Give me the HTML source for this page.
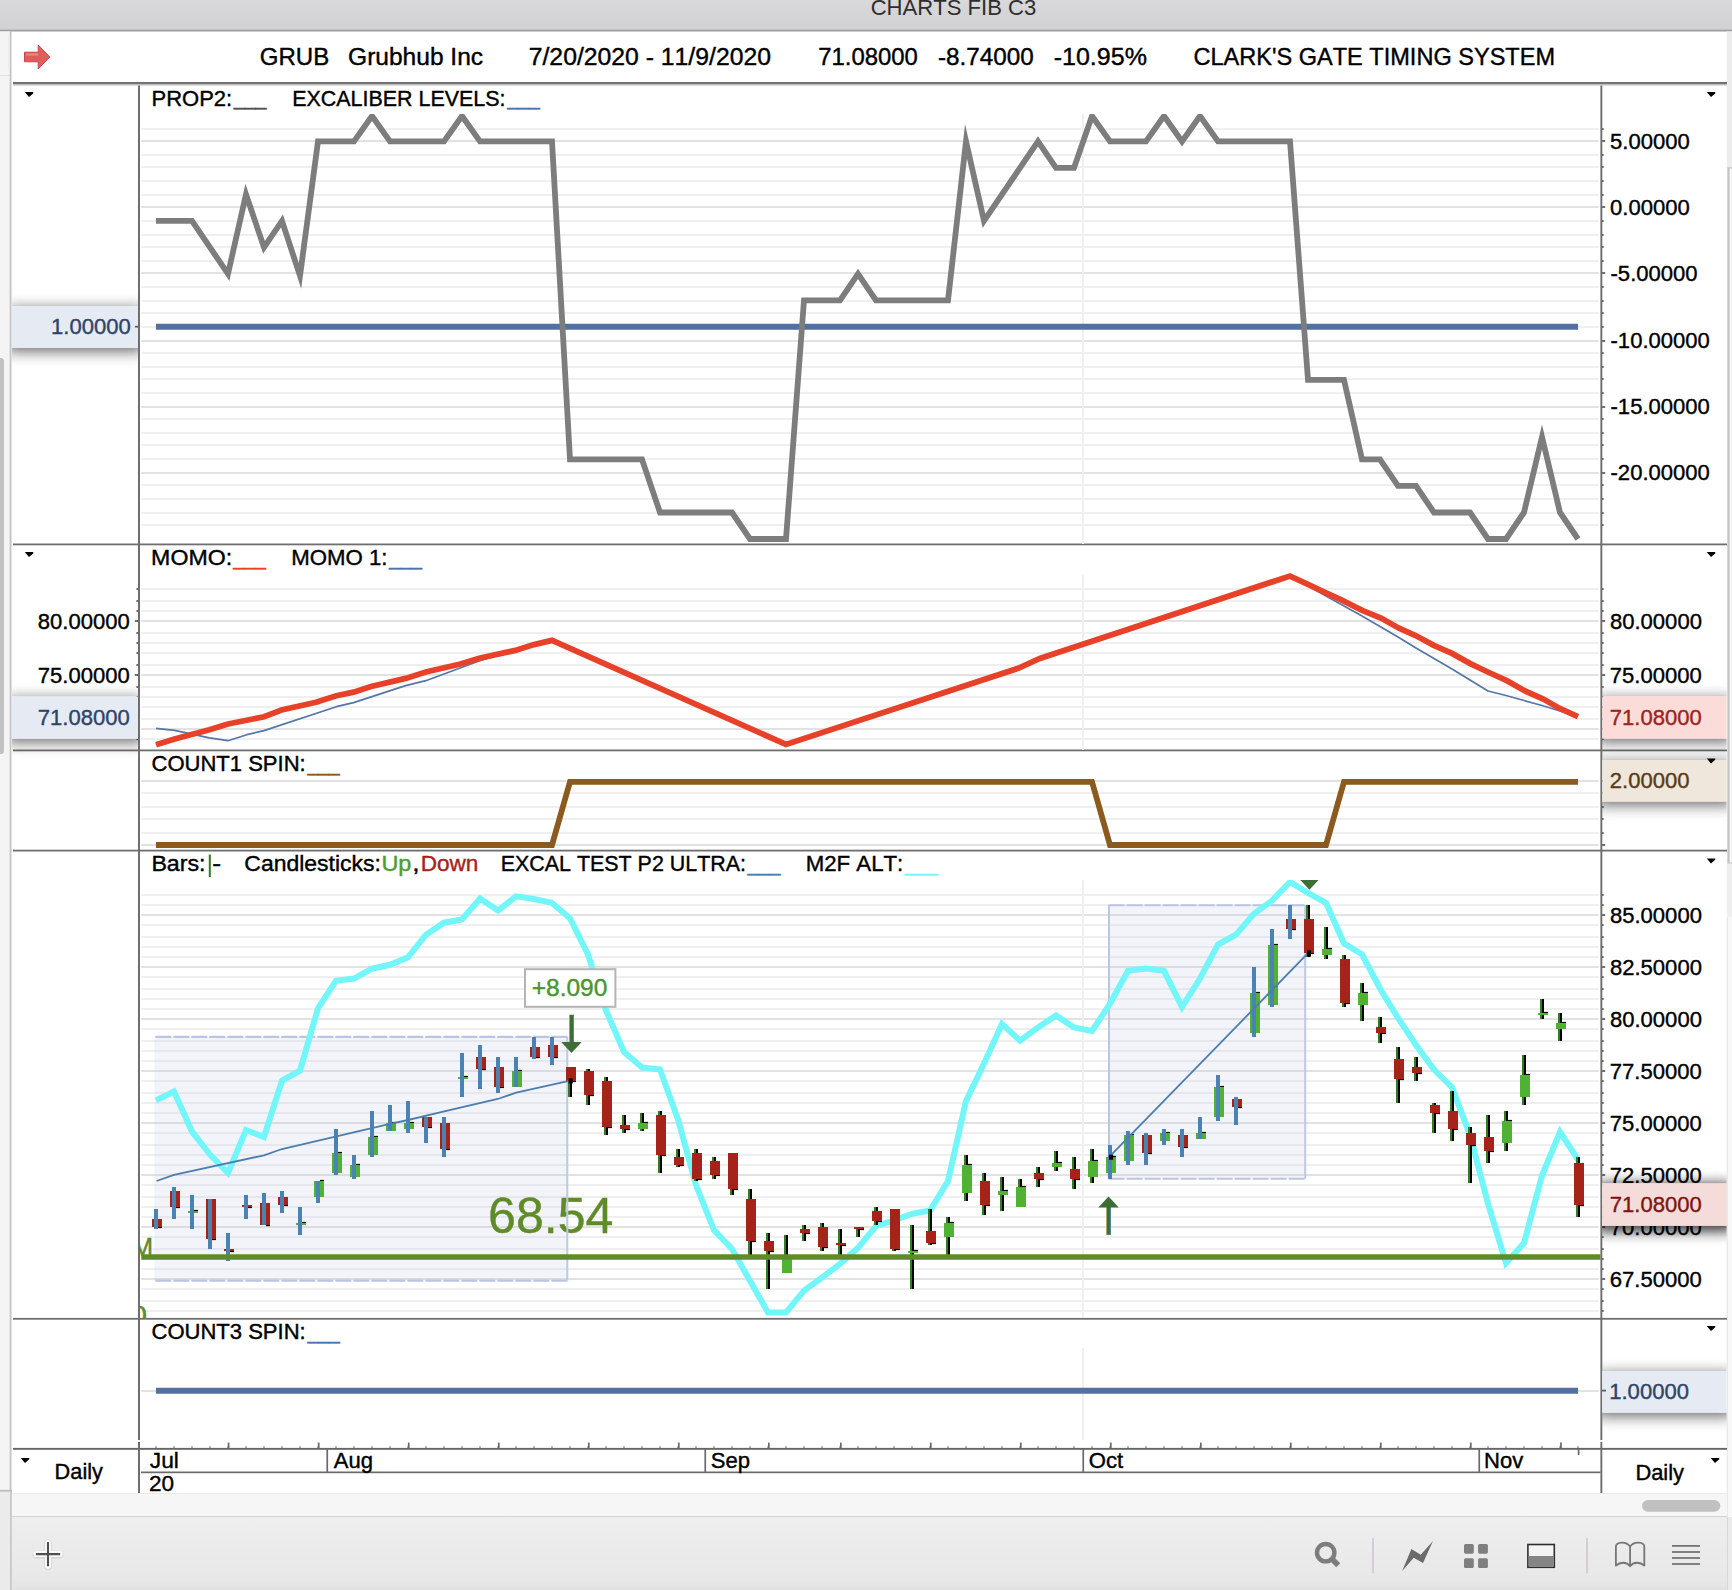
<!DOCTYPE html>
<html lang="en"><head><meta charset="utf-8"><title>CHARTS FIB C3</title>
<style>html,body{margin:0;padding:0;background:#fff;overflow:hidden}body{width:1732px;height:1590px;font-family:"Liberation Sans", sans-serif}svg{display:block;font-family:"Liberation Sans", sans-serif;font-kerning:none}text{white-space:pre}</style></head><body>
<svg width="1732" height="1590" viewBox="0 0 1732 1590">
<defs>
<linearGradient id="tb" x1="0" y1="0" x2="0" y2="1"><stop offset="0" stop-color="#d9d8da"/><stop offset="1" stop-color="#d1d0d2"/></linearGradient>
<filter id="sh" x="-20%" y="-100%" width="140%" height="300%"><feGaussianBlur in="SourceAlpha" stdDeviation="7.5"/><feOffset dy="2.8"/><feComponentTransfer><feFuncA type="linear" slope="0.62"/></feComponentTransfer><feMerge><feMergeNode/><feMergeNode in="SourceGraphic"/></feMerge></filter>
<filter id="glow" x="-50%" y="-50%" width="200%" height="200%"><feMorphology in="SourceAlpha" operator="dilate" radius="1.6" result="d"/><feGaussianBlur in="d" stdDeviation="0.8" result="b"/><feFlood flood-color="#fff"/><feComposite in2="b" operator="in"/><feMerge><feMergeNode/><feMergeNode in="SourceGraphic"/></feMerge></filter>
<clipPath id="c1"><rect x="140" y="114.1" width="1461" height="430"/></clipPath>
<clipPath id="c4"><rect x="140" y="880" width="1461" height="438"/></clipPath>
<clipPath id="c4t"><rect x="140" y="852" width="1461" height="466"/></clipPath>
<clipPath id="cl"><rect x="12" y="85" width="126" height="1400"/></clipPath>
<clipPath id="cr"><rect x="1602.3" y="85" width="124.3" height="1400"/></clipPath>
<clipPath id="cyr"><rect x="140" y="1473" width="1461" height="20"/></clipPath>
<linearGradient id="tbg" x1="0" y1="0" x2="0" y2="1"><stop offset="0" stop-color="#eeeeee"/><stop offset="0.85" stop-color="#e8e8e8"/><stop offset="1" stop-color="#e2e2e2"/></linearGradient>
</defs>
<rect x="0.00" y="0.00" width="1732.00" height="1590.00" fill="#ffffff" />
<rect x="0.00" y="0.00" width="1732.00" height="30.00" fill="url(#tb)" />
<rect x="0.00" y="29.70" width="1732.00" height="1.80" fill="#9e9d9f" />
<text transform="translate(870.68 15.30) scale(1.0227 1)" font-size="21.6" fill="#2e2e2e" stroke="#2e2e2e" stroke-width="0" >CHARTS FIB C3</text>
<rect x="0.00" y="31.50" width="10.00" height="1460.00" fill="#f4f4f4" />
<rect x="9.70" y="31.50" width="1.80" height="1460.00" fill="#c3c3c3" />
<rect x="8.00" y="35.00" width="2.00" height="35.00" fill="#ececec" />
<rect x="0.00" y="75.00" width="10.00" height="1.00" fill="#e2e2e2" />
<rect x="0.00" y="1490.00" width="12.00" height="100.00" fill="#ebebeb" />
<rect x="10.00" y="1490.00" width="1.80" height="100.00" fill="#c9c9c9" />
<rect x="0.00" y="1489.80" width="11.80" height="1.80" fill="#bcbcbc" />
<path d="M0 358 h0.5 a3.5 3.5 0 0 1 3.5 3.5 v389 a3.5 3.5 0 0 1 -3.5 3.5 h-0.5 z" fill="#c1c1c1"/>
<rect x="1726.80" y="31.50" width="5.20" height="136.50" fill="#ececec" />
<rect x="1726.80" y="168.00" width="5.20" height="695.00" fill="#f7f7f7" />
<rect x="1727.40" y="168.00" width="2.20" height="695.00" fill="#c2c2c2" />
<rect x="1727.40" y="167.20" width="4.60" height="1.40" fill="#c8c8c8" />
<rect x="1727.40" y="862.40" width="4.60" height="1.40" fill="#c8c8c8" />
<rect x="1726.80" y="863.80" width="5.20" height="53.00" fill="#eeeeee" />
<rect x="1726.80" y="917.00" width="5.20" height="600.00" fill="#f8f8f8" />
<rect x="1726.80" y="917.00" width="1.00" height="600.00" fill="#e4e4e4" />
<rect x="1726.80" y="1517.00" width="5.20" height="73.00" fill="#ebebeb" />
<rect x="1726.40" y="1517.00" width="1.30" height="73.00" fill="#d0d0d0" />
<path d="M24.5 52.2 H38.2 V45 L49.8 57 L38.2 69 V61.8 H24.5 Z" fill="#de5f58" stroke="#c8485a" stroke-width="1"/>
<path d="M26 54.5 H38" stroke="#ea8a80" stroke-width="2" fill="none"/>
<text transform="translate(259.79 65.00) scale(0.9697 1)" font-size="24.8" fill="#000" stroke="#000" stroke-width="0.4" >GRUB</text>
<text transform="translate(348.07 65.00) scale(0.9897 1)" font-size="24.8" fill="#000" stroke="#000" stroke-width="0.4" >Grubhub Inc</text>
<text transform="translate(528.73 65.00) scale(0.9989 1)" font-size="24.8" fill="#000" stroke="#000" stroke-width="0.4" >7/20/2020 - 11/9/2020</text>
<text transform="translate(818.17 65.00) scale(0.9644 1)" font-size="24.8" fill="#000" stroke="#000" stroke-width="0.4" >71.08000</text>
<text transform="translate(937.92 65.00) scale(0.9788 1)" font-size="24.8" fill="#000" stroke="#000" stroke-width="0.4" >-8.74000</text>
<text transform="translate(1053.69 65.00) scale(1.0090 1)" font-size="24.8" fill="#000" stroke="#000" stroke-width="0.4" >-10.95%</text>
<text transform="translate(1193.40 65.00) scale(0.9501 1)" font-size="24.8" fill="#000" stroke="#000" stroke-width="0.4" >CLARK'S GATE TIMING SYSTEM</text>
<rect x="13.00" y="82.00" width="1714.00" height="2.20" fill="#727272" />
<rect x="13.00" y="84.20" width="1714.00" height="1.30" fill="#b9b9b9" />
<rect x="13.00" y="543.50" width="1714.00" height="1.80" fill="#6e6e6e" />
<rect x="13.00" y="749.50" width="1714.00" height="1.80" fill="#6e6e6e" />
<rect x="13.00" y="849.70" width="1714.00" height="1.80" fill="#6e6e6e" />
<rect x="13.00" y="1317.90" width="1714.00" height="1.80" fill="#6e6e6e" />
<rect x="13.00" y="1447.90" width="1714.00" height="1.90" fill="#666" />
<rect x="138.00" y="85.50" width="2.00" height="1354.50" fill="#6e6e6e" />
<rect x="138.00" y="1442.00" width="2.00" height="51.00" fill="#6e6e6e" />
<rect x="1600.40" y="85.50" width="1.90" height="1354.50" fill="#6e6e6e" />
<rect x="1600.40" y="1442.00" width="1.90" height="51.00" fill="#6e6e6e" />
<rect x="141.20" y="128.00" width="1457.40" height="2.00" fill="#efefef" />
<rect x="1602.00" y="128.00" width="1.70" height="2.00" fill="#6e6e6e" />
<rect x="141.20" y="140.00" width="1457.40" height="2.00" fill="#e2e2e2" />
<rect x="1602.00" y="140.00" width="3.20" height="2.00" fill="#6e6e6e" />
<rect x="141.20" y="154.00" width="1457.40" height="2.00" fill="#efefef" />
<rect x="1602.00" y="154.00" width="1.70" height="2.00" fill="#6e6e6e" />
<rect x="141.20" y="166.00" width="1457.40" height="2.00" fill="#efefef" />
<rect x="1602.00" y="166.00" width="1.70" height="2.00" fill="#6e6e6e" />
<rect x="141.20" y="180.00" width="1457.40" height="2.00" fill="#efefef" />
<rect x="1602.00" y="180.00" width="1.70" height="2.00" fill="#6e6e6e" />
<rect x="141.20" y="194.00" width="1457.40" height="2.00" fill="#efefef" />
<rect x="1602.00" y="194.00" width="1.70" height="2.00" fill="#6e6e6e" />
<rect x="141.20" y="206.00" width="1457.40" height="2.00" fill="#e2e2e2" />
<rect x="1602.00" y="206.00" width="3.20" height="2.00" fill="#6e6e6e" />
<rect x="141.20" y="220.00" width="1457.40" height="2.00" fill="#efefef" />
<rect x="1602.00" y="220.00" width="1.70" height="2.00" fill="#6e6e6e" />
<rect x="141.20" y="234.00" width="1457.40" height="2.00" fill="#efefef" />
<rect x="1602.00" y="234.00" width="1.70" height="2.00" fill="#6e6e6e" />
<rect x="141.20" y="246.00" width="1457.40" height="2.00" fill="#efefef" />
<rect x="1602.00" y="246.00" width="1.70" height="2.00" fill="#6e6e6e" />
<rect x="141.20" y="260.00" width="1457.40" height="2.00" fill="#efefef" />
<rect x="1602.00" y="260.00" width="1.70" height="2.00" fill="#6e6e6e" />
<rect x="141.20" y="272.00" width="1457.40" height="2.00" fill="#e2e2e2" />
<rect x="1602.00" y="272.00" width="3.20" height="2.00" fill="#6e6e6e" />
<rect x="141.20" y="286.00" width="1457.40" height="2.00" fill="#efefef" />
<rect x="1602.00" y="286.00" width="1.70" height="2.00" fill="#6e6e6e" />
<rect x="141.20" y="300.00" width="1457.40" height="2.00" fill="#efefef" />
<rect x="1602.00" y="300.00" width="1.70" height="2.00" fill="#6e6e6e" />
<rect x="141.20" y="312.00" width="1457.40" height="2.00" fill="#efefef" />
<rect x="1602.00" y="312.00" width="1.70" height="2.00" fill="#6e6e6e" />
<rect x="141.20" y="326.00" width="1457.40" height="2.00" fill="#efefef" />
<rect x="1602.00" y="326.00" width="1.70" height="2.00" fill="#6e6e6e" />
<rect x="141.20" y="340.00" width="1457.40" height="2.00" fill="#e2e2e2" />
<rect x="1602.00" y="340.00" width="3.20" height="2.00" fill="#6e6e6e" />
<rect x="141.20" y="352.00" width="1457.40" height="2.00" fill="#efefef" />
<rect x="1602.00" y="352.00" width="1.70" height="2.00" fill="#6e6e6e" />
<rect x="141.20" y="366.00" width="1457.40" height="2.00" fill="#efefef" />
<rect x="1602.00" y="366.00" width="1.70" height="2.00" fill="#6e6e6e" />
<rect x="141.20" y="378.00" width="1457.40" height="2.00" fill="#efefef" />
<rect x="1602.00" y="378.00" width="1.70" height="2.00" fill="#6e6e6e" />
<rect x="141.20" y="392.00" width="1457.40" height="2.00" fill="#efefef" />
<rect x="1602.00" y="392.00" width="1.70" height="2.00" fill="#6e6e6e" />
<rect x="141.20" y="406.00" width="1457.40" height="2.00" fill="#e2e2e2" />
<rect x="1602.00" y="406.00" width="3.20" height="2.00" fill="#6e6e6e" />
<rect x="141.20" y="418.00" width="1457.40" height="2.00" fill="#efefef" />
<rect x="1602.00" y="418.00" width="1.70" height="2.00" fill="#6e6e6e" />
<rect x="141.20" y="432.00" width="1457.40" height="2.00" fill="#efefef" />
<rect x="1602.00" y="432.00" width="1.70" height="2.00" fill="#6e6e6e" />
<rect x="141.20" y="444.00" width="1457.40" height="2.00" fill="#efefef" />
<rect x="1602.00" y="444.00" width="1.70" height="2.00" fill="#6e6e6e" />
<rect x="141.20" y="458.00" width="1457.40" height="2.00" fill="#efefef" />
<rect x="1602.00" y="458.00" width="1.70" height="2.00" fill="#6e6e6e" />
<rect x="141.20" y="472.00" width="1457.40" height="2.00" fill="#e2e2e2" />
<rect x="1602.00" y="472.00" width="3.20" height="2.00" fill="#6e6e6e" />
<rect x="141.20" y="484.00" width="1457.40" height="2.00" fill="#efefef" />
<rect x="1602.00" y="484.00" width="1.70" height="2.00" fill="#6e6e6e" />
<rect x="141.20" y="498.00" width="1457.40" height="2.00" fill="#efefef" />
<rect x="1602.00" y="498.00" width="1.70" height="2.00" fill="#6e6e6e" />
<rect x="141.20" y="512.00" width="1457.40" height="2.00" fill="#efefef" />
<rect x="1602.00" y="512.00" width="1.70" height="2.00" fill="#6e6e6e" />
<rect x="141.20" y="524.00" width="1457.40" height="2.00" fill="#efefef" />
<rect x="1602.00" y="524.00" width="1.70" height="2.00" fill="#6e6e6e" />
<rect x="1082.00" y="114.00" width="2.00" height="430.00" fill="#f0f0f0" />
<g clip-path="url(#c1)">
<line x1="156.00" y1="326.70" x2="1578.00" y2="326.70" stroke="#5271a2" stroke-width="5.9" />
<polyline points="156.0,220.9 174.0,220.9 192.0,220.9 210.0,247.4 228.0,273.9 246.0,194.4 264.0,247.4 282.0,220.9 300.0,275.9 318.0,141.4 336.0,141.4 354.0,141.4 372.0,116.0 390.0,141.4 408.0,141.4 426.0,141.4 444.0,141.4 462.0,116.0 480.0,141.4 498.0,141.4 516.0,141.4 534.0,141.4 552.0,141.4 570.0,459.4 588.0,459.4 606.0,459.4 624.0,459.4 642.0,459.4 660.0,512.5 678.0,512.5 696.0,512.5 714.0,512.5 732.0,512.5 750.0,539.0 768.0,539.0 786.0,539.0 804.0,300.4 822.0,300.4 840.0,300.4 858.0,273.9 876.0,300.4 894.0,300.4 912.0,300.4 930.0,300.4 948.0,300.4 966.0,141.4 984.0,220.9 1002.0,194.4 1020.0,167.9 1038.0,141.4 1056.0,167.9 1074.0,167.9 1092.0,116.0 1110.0,141.4 1128.0,141.4 1146.0,141.4 1164.0,116.0 1182.0,141.4 1200.0,116.0 1218.0,141.4 1236.0,141.4 1254.0,141.4 1272.0,141.4 1290.0,141.4 1308.0,379.9 1326.0,379.9 1344.0,379.9 1362.0,459.4 1380.0,459.4 1398.0,485.9 1416.0,485.9 1434.0,512.5 1452.0,512.5 1470.0,512.5 1488.0,539.0 1506.0,539.0 1524.0,512.5 1542.0,436.9 1560.0,512.5 1578.0,539.0" fill="none" stroke="#7d7d7d" stroke-width="5.8" stroke-linejoin="miter" stroke-miterlimit="10"/>
</g>
<text transform="translate(151.49 105.80) scale(0.9651 1)" font-size="22.8" fill="#000" stroke="#000" stroke-width="0.4" >PROP2:</text>
<text transform="translate(233.70 105.20) scale(0.8643 1)" font-size="22.8" fill="#505050" stroke="#505050" stroke-width="0.4" >___</text>
<text transform="translate(292.24 105.80) scale(0.9408 1)" font-size="22.8" fill="#000" stroke="#000" stroke-width="0.4" >EXCALIBER LEVELS:</text>
<text transform="translate(507.20 105.20) scale(0.8566 1)" font-size="22.8" fill="#4a74b0" stroke="#4a74b0" stroke-width="0.4" >___</text>
<text transform="translate(1610.02 148.95) scale(0.9678 1)" font-size="22.8" fill="#000" stroke="#000" stroke-width="0.4" >5.00000</text>
<text transform="translate(1610.04 215.20) scale(0.9678 1)" font-size="22.8" fill="#000" stroke="#000" stroke-width="0.4" >0.00000</text>
<text transform="translate(1610.52 281.45) scale(0.9678 1)" font-size="22.8" fill="#000" stroke="#000" stroke-width="0.4" >-5.00000</text>
<text transform="translate(1610.52 347.70) scale(0.9678 1)" font-size="22.8" fill="#000" stroke="#000" stroke-width="0.4" >-10.00000</text>
<text transform="translate(1610.52 413.95) scale(0.9678 1)" font-size="22.8" fill="#000" stroke="#000" stroke-width="0.4" >-15.00000</text>
<text transform="translate(1610.52 480.20) scale(0.9678 1)" font-size="22.8" fill="#000" stroke="#000" stroke-width="0.4" >-20.00000</text>
<path d="M24.75 92.10 h8.50 v1.3 l-4.25 3.70 z" fill="#000"/>
<path d="M1706.75 92.10 h8.50 v1.3 l-4.25 3.70 z" fill="#000"/>
<g clip-path="url(#cl)"><g filter="url(#sh)"><rect x="6" y="306.0" width="138" height="42.0" fill="#e6eaf3"/></g></g>
<text transform="translate(51.00 334.40) scale(0.9678 1)" font-size="22.8" fill="#2f4466" stroke="#2f4466" stroke-width="0.4" >1.00000</text>
<line x1="135.00" y1="326.70" x2="138.00" y2="326.70" stroke="#606060" stroke-width="1.8" />
<rect x="141.20" y="588.00" width="1457.40" height="2.00" fill="#efefef" />
<rect x="1602.00" y="588.00" width="1.70" height="2.00" fill="#6e6e6e" />
<rect x="136.40" y="588.00" width="1.60" height="2.00" fill="#6e6e6e" />
<rect x="141.20" y="600.00" width="1457.40" height="2.00" fill="#efefef" />
<rect x="1602.00" y="600.00" width="1.70" height="2.00" fill="#6e6e6e" />
<rect x="136.40" y="600.00" width="1.60" height="2.00" fill="#6e6e6e" />
<rect x="141.20" y="610.00" width="1457.40" height="2.00" fill="#efefef" />
<rect x="1602.00" y="610.00" width="1.70" height="2.00" fill="#6e6e6e" />
<rect x="136.40" y="610.00" width="1.60" height="2.00" fill="#6e6e6e" />
<rect x="141.20" y="620.00" width="1457.40" height="2.00" fill="#e2e2e2" />
<rect x="1602.00" y="620.00" width="3.20" height="2.00" fill="#6e6e6e" />
<rect x="134.80" y="620.00" width="3.20" height="2.00" fill="#6e6e6e" />
<rect x="141.20" y="632.00" width="1457.40" height="2.00" fill="#efefef" />
<rect x="1602.00" y="632.00" width="1.70" height="2.00" fill="#6e6e6e" />
<rect x="136.40" y="632.00" width="1.60" height="2.00" fill="#6e6e6e" />
<rect x="141.20" y="642.00" width="1457.40" height="2.00" fill="#efefef" />
<rect x="1602.00" y="642.00" width="1.70" height="2.00" fill="#6e6e6e" />
<rect x="136.40" y="642.00" width="1.60" height="2.00" fill="#6e6e6e" />
<rect x="141.20" y="652.00" width="1457.40" height="2.00" fill="#efefef" />
<rect x="1602.00" y="652.00" width="1.70" height="2.00" fill="#6e6e6e" />
<rect x="136.40" y="652.00" width="1.60" height="2.00" fill="#6e6e6e" />
<rect x="141.20" y="664.00" width="1457.40" height="2.00" fill="#efefef" />
<rect x="1602.00" y="664.00" width="1.70" height="2.00" fill="#6e6e6e" />
<rect x="136.40" y="664.00" width="1.60" height="2.00" fill="#6e6e6e" />
<rect x="141.20" y="674.00" width="1457.40" height="2.00" fill="#e2e2e2" />
<rect x="1602.00" y="674.00" width="3.20" height="2.00" fill="#6e6e6e" />
<rect x="134.80" y="674.00" width="3.20" height="2.00" fill="#6e6e6e" />
<rect x="141.20" y="686.00" width="1457.40" height="2.00" fill="#efefef" />
<rect x="1602.00" y="686.00" width="1.70" height="2.00" fill="#6e6e6e" />
<rect x="136.40" y="686.00" width="1.60" height="2.00" fill="#6e6e6e" />
<rect x="141.20" y="696.00" width="1457.40" height="2.00" fill="#efefef" />
<rect x="1602.00" y="696.00" width="1.70" height="2.00" fill="#6e6e6e" />
<rect x="136.40" y="696.00" width="1.60" height="2.00" fill="#6e6e6e" />
<rect x="141.20" y="706.00" width="1457.40" height="2.00" fill="#efefef" />
<rect x="1602.00" y="706.00" width="1.70" height="2.00" fill="#6e6e6e" />
<rect x="136.40" y="706.00" width="1.60" height="2.00" fill="#6e6e6e" />
<rect x="141.20" y="718.00" width="1457.40" height="2.00" fill="#efefef" />
<rect x="1602.00" y="718.00" width="1.70" height="2.00" fill="#6e6e6e" />
<rect x="136.40" y="718.00" width="1.60" height="2.00" fill="#6e6e6e" />
<rect x="141.20" y="728.00" width="1457.40" height="2.00" fill="#e2e2e2" />
<rect x="1602.00" y="728.00" width="3.20" height="2.00" fill="#6e6e6e" />
<rect x="134.80" y="728.00" width="3.20" height="2.00" fill="#6e6e6e" />
<rect x="141.20" y="738.00" width="1457.40" height="2.00" fill="#efefef" />
<rect x="1602.00" y="738.00" width="1.70" height="2.00" fill="#6e6e6e" />
<rect x="136.40" y="738.00" width="1.60" height="2.00" fill="#6e6e6e" />
<rect x="1082.00" y="575.00" width="2.00" height="175.00" fill="#f0f0f0" />
<polyline points="156.0,728.3 174.6,730.3 209.3,737.8 228.0,740.7 246.8,734.7 264.0,730.6 336.3,706.7 353.6,702.6 405.6,685.6 425.8,680.7 479.0,661.0 497.0,655.5 515.3,650.4 552.0,640.4 786.0,744.0 1290.0,576.0 1326.0,596.0 1344.0,606.0 1362.0,616.0 1380.0,626.5 1398.0,637.0 1416.0,648.0 1434.0,658.6 1452.0,669.0 1470.0,680.0 1488.0,691.0 1506.0,695.5 1524.0,700.5 1542.0,705.5 1560.0,711.0 1578.0,716.5" fill="none" stroke="#5576a8" stroke-width="1.7" stroke-linejoin="round"/>
<polyline points="156.0,744.7 174.6,739.0 209.3,729.8 228.0,724.0 264.0,716.8 281.5,710.0 316.0,702.3 336.3,695.7 353.6,692.2 371.0,686.5 405.6,678.4 425.8,672.0 460.4,664.0 479.2,658.2 515.3,650.4 534.0,644.6 552.0,640.4 786.0,744.4 1018.2,668.3 1039.8,658.4 1290.0,576.0 1308.0,584.4 1326.0,592.8 1340.8,599.7 1362.7,610.7 1381.0,618.0 1399.0,628.2 1415.6,635.5 1433.8,645.3 1452.0,653.4 1470.3,663.6 1487.8,672.0 1506.8,680.7 1525.0,691.0 1543.3,699.0 1559.7,708.4 1578.0,716.7" fill="none" stroke="#e8412a" stroke-width="5.8" stroke-linejoin="miter" stroke-linecap="butt"/>
<text transform="translate(151.10 565.30) scale(1.0153 1)" font-size="22.8" fill="#000" stroke="#000" stroke-width="0.4" >MOMO:</text>
<text transform="translate(233.30 564.70) scale(0.8592 1)" font-size="22.8" fill="#e8412a" stroke="#e8412a" stroke-width="0.4" >___</text>
<text transform="translate(291.18 565.30) scale(0.9742 1)" font-size="22.8" fill="#000" stroke="#000" stroke-width="0.4" >MOMO 1:</text>
<text transform="translate(389.10 564.70) scale(0.8669 1)" font-size="22.8" fill="#4a74b0" stroke="#4a74b0" stroke-width="0.4" >___</text>
<text transform="translate(37.73 629.00) scale(0.9678 1)" font-size="22.8" fill="#000" stroke="#000" stroke-width="0.4" >80.00000</text>
<text transform="translate(37.73 682.70) scale(0.9678 1)" font-size="22.8" fill="#000" stroke="#000" stroke-width="0.4" >75.00000</text>
<text transform="translate(1609.94 629.00) scale(0.9678 1)" font-size="22.8" fill="#000" stroke="#000" stroke-width="0.4" >80.00000</text>
<text transform="translate(1609.77 682.70) scale(0.9678 1)" font-size="22.8" fill="#000" stroke="#000" stroke-width="0.4" >75.00000</text>
<path d="M24.75 552.10 h8.50 v1.3 l-4.25 3.70 z" fill="#000"/>
<path d="M1706.75 552.10 h8.50 v1.3 l-4.25 3.70 z" fill="#000"/>
<g clip-path="url(#cl)"><g filter="url(#sh)"><rect x="6" y="696.6" width="138" height="42.2" fill="#e6eaf3"/></g></g>
<text transform="translate(37.83 725.00) scale(0.9678 1)" font-size="22.8" fill="#2f4466" stroke="#2f4466" stroke-width="0.4" >71.08000</text>
<g clip-path="url(#cr)"><g filter="url(#sh)"><rect x="1596" y="696.4" width="138" height="42.2" fill="#fbdcd9"/></g></g>
<text transform="translate(1609.77 725.00) scale(0.9678 1)" font-size="22.8" fill="#9c241b" stroke="#9c241b" stroke-width="0.4" >71.08000</text>
<rect x="141.20" y="780.00" width="1457.40" height="2.00" fill="#e2e2e2" />
<rect x="1602.00" y="780.00" width="3.20" height="2.00" fill="#6e6e6e" />
<rect x="141.20" y="792.00" width="1457.40" height="2.00" fill="#efefef" />
<rect x="1602.00" y="792.00" width="1.70" height="2.00" fill="#6e6e6e" />
<rect x="141.20" y="806.00" width="1457.40" height="2.00" fill="#efefef" />
<rect x="1602.00" y="806.00" width="1.70" height="2.00" fill="#6e6e6e" />
<rect x="141.20" y="818.00" width="1457.40" height="2.00" fill="#efefef" />
<rect x="1602.00" y="818.00" width="1.70" height="2.00" fill="#6e6e6e" />
<rect x="141.20" y="832.00" width="1457.40" height="2.00" fill="#efefef" />
<rect x="1602.00" y="832.00" width="1.70" height="2.00" fill="#6e6e6e" />
<rect x="141.20" y="844.00" width="1457.40" height="2.00" fill="#e2e2e2" />
<rect x="1602.00" y="844.00" width="3.20" height="2.00" fill="#6e6e6e" />
<polyline points="156.0,845.0 552.0,845.0 570.0,781.8 1092.0,781.8 1110.0,845.0 1326.0,845.0 1344.0,781.8 1578.0,781.8" fill="none" stroke="#8b5a1f" stroke-width="5.8" stroke-linejoin="miter"/>
<text transform="translate(151.48 771.40) scale(0.9669 1)" font-size="22.8" fill="#000" stroke="#000" stroke-width="0.4" >COUNT1 SPIN:</text>
<text transform="translate(307.49 770.80) scale(0.8514 1)" font-size="22.8" fill="#8b5a1f" stroke="#8b5a1f" stroke-width="0.4" >___</text>
<g clip-path="url(#cr)"><g filter="url(#sh)"><rect x="1596" y="760.0" width="138" height="41.6" fill="#efe6dc"/></g></g>
<text transform="translate(1609.79 788.30) scale(0.9678 1)" font-size="22.8" fill="#5c3a14" stroke="#5c3a14" stroke-width="0.4" >2.00000</text>
<path d="M1706.75 758.50 h8.50 v1.3 l-4.25 3.70 z" fill="#000"/>
<rect x="141.20" y="894.00" width="1457.40" height="2.00" fill="#efefef" />
<rect x="1602.00" y="894.00" width="1.70" height="2.00" fill="#6e6e6e" />
<rect x="141.20" y="904.00" width="1457.40" height="2.00" fill="#efefef" />
<rect x="1602.00" y="904.00" width="1.70" height="2.00" fill="#6e6e6e" />
<rect x="141.20" y="914.00" width="1457.40" height="2.00" fill="#e2e2e2" />
<rect x="1602.00" y="914.00" width="3.20" height="2.00" fill="#6e6e6e" />
<rect x="141.20" y="924.00" width="1457.40" height="2.00" fill="#efefef" />
<rect x="1602.00" y="924.00" width="1.70" height="2.00" fill="#6e6e6e" />
<rect x="141.20" y="936.00" width="1457.40" height="2.00" fill="#efefef" />
<rect x="1602.00" y="936.00" width="1.70" height="2.00" fill="#6e6e6e" />
<rect x="141.20" y="946.00" width="1457.40" height="2.00" fill="#efefef" />
<rect x="1602.00" y="946.00" width="1.70" height="2.00" fill="#6e6e6e" />
<rect x="141.20" y="956.00" width="1457.40" height="2.00" fill="#efefef" />
<rect x="1602.00" y="956.00" width="1.70" height="2.00" fill="#6e6e6e" />
<rect x="141.20" y="966.00" width="1457.40" height="2.00" fill="#e2e2e2" />
<rect x="1602.00" y="966.00" width="3.20" height="2.00" fill="#6e6e6e" />
<rect x="141.20" y="976.00" width="1457.40" height="2.00" fill="#efefef" />
<rect x="1602.00" y="976.00" width="1.70" height="2.00" fill="#6e6e6e" />
<rect x="141.20" y="988.00" width="1457.40" height="2.00" fill="#efefef" />
<rect x="1602.00" y="988.00" width="1.70" height="2.00" fill="#6e6e6e" />
<rect x="141.20" y="998.00" width="1457.40" height="2.00" fill="#efefef" />
<rect x="1602.00" y="998.00" width="1.70" height="2.00" fill="#6e6e6e" />
<rect x="141.20" y="1008.00" width="1457.40" height="2.00" fill="#efefef" />
<rect x="1602.00" y="1008.00" width="1.70" height="2.00" fill="#6e6e6e" />
<rect x="141.20" y="1018.00" width="1457.40" height="2.00" fill="#e2e2e2" />
<rect x="1602.00" y="1018.00" width="3.20" height="2.00" fill="#6e6e6e" />
<rect x="141.20" y="1028.00" width="1457.40" height="2.00" fill="#efefef" />
<rect x="1602.00" y="1028.00" width="1.70" height="2.00" fill="#6e6e6e" />
<rect x="141.20" y="1040.00" width="1457.40" height="2.00" fill="#efefef" />
<rect x="1602.00" y="1040.00" width="1.70" height="2.00" fill="#6e6e6e" />
<rect x="141.20" y="1050.00" width="1457.40" height="2.00" fill="#efefef" />
<rect x="1602.00" y="1050.00" width="1.70" height="2.00" fill="#6e6e6e" />
<rect x="141.20" y="1060.00" width="1457.40" height="2.00" fill="#efefef" />
<rect x="1602.00" y="1060.00" width="1.70" height="2.00" fill="#6e6e6e" />
<rect x="141.20" y="1070.00" width="1457.40" height="2.00" fill="#e2e2e2" />
<rect x="1602.00" y="1070.00" width="3.20" height="2.00" fill="#6e6e6e" />
<rect x="141.20" y="1080.00" width="1457.40" height="2.00" fill="#efefef" />
<rect x="1602.00" y="1080.00" width="1.70" height="2.00" fill="#6e6e6e" />
<rect x="141.20" y="1092.00" width="1457.40" height="2.00" fill="#efefef" />
<rect x="1602.00" y="1092.00" width="1.70" height="2.00" fill="#6e6e6e" />
<rect x="141.20" y="1102.00" width="1457.40" height="2.00" fill="#efefef" />
<rect x="1602.00" y="1102.00" width="1.70" height="2.00" fill="#6e6e6e" />
<rect x="141.20" y="1112.00" width="1457.40" height="2.00" fill="#efefef" />
<rect x="1602.00" y="1112.00" width="1.70" height="2.00" fill="#6e6e6e" />
<rect x="141.20" y="1122.00" width="1457.40" height="2.00" fill="#e2e2e2" />
<rect x="1602.00" y="1122.00" width="3.20" height="2.00" fill="#6e6e6e" />
<rect x="141.20" y="1132.00" width="1457.40" height="2.00" fill="#efefef" />
<rect x="1602.00" y="1132.00" width="1.70" height="2.00" fill="#6e6e6e" />
<rect x="141.20" y="1144.00" width="1457.40" height="2.00" fill="#efefef" />
<rect x="1602.00" y="1144.00" width="1.70" height="2.00" fill="#6e6e6e" />
<rect x="141.20" y="1154.00" width="1457.40" height="2.00" fill="#efefef" />
<rect x="1602.00" y="1154.00" width="1.70" height="2.00" fill="#6e6e6e" />
<rect x="141.20" y="1164.00" width="1457.40" height="2.00" fill="#efefef" />
<rect x="1602.00" y="1164.00" width="1.70" height="2.00" fill="#6e6e6e" />
<rect x="141.20" y="1174.00" width="1457.40" height="2.00" fill="#e2e2e2" />
<rect x="1602.00" y="1174.00" width="3.20" height="2.00" fill="#6e6e6e" />
<rect x="141.20" y="1184.00" width="1457.40" height="2.00" fill="#efefef" />
<rect x="1602.00" y="1184.00" width="1.70" height="2.00" fill="#6e6e6e" />
<rect x="141.20" y="1196.00" width="1457.40" height="2.00" fill="#efefef" />
<rect x="1602.00" y="1196.00" width="1.70" height="2.00" fill="#6e6e6e" />
<rect x="141.20" y="1206.00" width="1457.40" height="2.00" fill="#efefef" />
<rect x="1602.00" y="1206.00" width="1.70" height="2.00" fill="#6e6e6e" />
<rect x="141.20" y="1216.00" width="1457.40" height="2.00" fill="#efefef" />
<rect x="1602.00" y="1216.00" width="1.70" height="2.00" fill="#6e6e6e" />
<rect x="141.20" y="1226.00" width="1457.40" height="2.00" fill="#e2e2e2" />
<rect x="1602.00" y="1226.00" width="3.20" height="2.00" fill="#6e6e6e" />
<rect x="141.20" y="1236.00" width="1457.40" height="2.00" fill="#efefef" />
<rect x="1602.00" y="1236.00" width="1.70" height="2.00" fill="#6e6e6e" />
<rect x="141.20" y="1248.00" width="1457.40" height="2.00" fill="#efefef" />
<rect x="1602.00" y="1248.00" width="1.70" height="2.00" fill="#6e6e6e" />
<rect x="141.20" y="1258.00" width="1457.40" height="2.00" fill="#efefef" />
<rect x="1602.00" y="1258.00" width="1.70" height="2.00" fill="#6e6e6e" />
<rect x="141.20" y="1268.00" width="1457.40" height="2.00" fill="#efefef" />
<rect x="1602.00" y="1268.00" width="1.70" height="2.00" fill="#6e6e6e" />
<rect x="141.20" y="1278.00" width="1457.40" height="2.00" fill="#e2e2e2" />
<rect x="1602.00" y="1278.00" width="3.20" height="2.00" fill="#6e6e6e" />
<rect x="141.20" y="1288.00" width="1457.40" height="2.00" fill="#efefef" />
<rect x="1602.00" y="1288.00" width="1.70" height="2.00" fill="#6e6e6e" />
<rect x="141.20" y="1300.00" width="1457.40" height="2.00" fill="#efefef" />
<rect x="1602.00" y="1300.00" width="1.70" height="2.00" fill="#6e6e6e" />
<rect x="141.20" y="1310.00" width="1457.40" height="2.00" fill="#efefef" />
<rect x="1602.00" y="1310.00" width="1.70" height="2.00" fill="#6e6e6e" />
<rect x="1082.00" y="880.00" width="2.00" height="438.00" fill="#f0f0f0" />
<g clip-path="url(#c4t)">
<rect x="154.30" y="1036.60" width="413.00" height="244.00" fill="#c3c9e3" fill-opacity="0.2"/>
<rect x="1108.60" y="905.00" width="196.60" height="273.80" fill="#c3c9e3" fill-opacity="0.2"/>
</g>
<g clip-path="url(#c4)">
<text transform="translate(488.06 1233.30) scale(1.0015 1)" font-size="50" fill="#5f8c28" stroke="#5f8c28" stroke-width="0.4" >68.54</text>
<text transform="translate(131.69 1256.00) scale(1.0285 1)" font-size="25" fill="#5f8c28" stroke="#5f8c28" stroke-width="0.4" >M</text>
<text transform="translate(130.86 1324.00) scale(1.1715 1)" font-size="25" fill="#5f8c28" stroke="#5f8c28" stroke-width="0.4" >0</text>
</g>
<g clip-path="url(#c4t)">
<line x1="155.30" y1="1036.90" x2="567.30" y2="1036.90" stroke="#bbc5e1" stroke-width="2.1" stroke-dasharray="16 2"/>
<line x1="155.30" y1="1280.60" x2="567.30" y2="1280.60" stroke="#bbc5e1" stroke-width="2.1" stroke-dasharray="16 2"/>
<line x1="567.30" y1="1036.60" x2="567.30" y2="1280.60" stroke="#bfc8e2" stroke-width="2" />
<line x1="1108.60" y1="905.30" x2="1305.20" y2="905.30" stroke="#bbc5e1" stroke-width="2.1" stroke-dasharray="16 2"/>
<line x1="1108.60" y1="1178.80" x2="1305.20" y2="1178.80" stroke="#bbc5e1" stroke-width="2.1" stroke-dasharray="16 2"/>
<line x1="1305.20" y1="905.00" x2="1305.20" y2="1178.80" stroke="#bfc8e2" stroke-width="2" />
<line x1="1109.00" y1="905.00" x2="1109.00" y2="1178.80" stroke="#bcc6e1" stroke-width="2" />
</g>
<g clip-path="url(#c4)">
<polyline points="156.0,1100.4 174.0,1091.6 192.0,1131.6 210.0,1154.6 228.0,1173.0 246.0,1130.0 264.0,1137.0 282.0,1080.6 300.0,1070.7 318.0,1008.2 336.0,980.8 354.0,978.6 372.0,968.7 390.0,964.8 408.0,957.3 426.0,934.7 444.0,922.7 462.0,919.4 480.0,898.5 498.0,910.6 516.0,896.3 534.0,899.0 552.0,902.9 570.0,918.3 588.0,954.5 606.0,1010.4 624.0,1052.0 642.0,1067.5 660.0,1069.6 678.0,1119.5 696.0,1185.0 714.0,1230.0 732.0,1249.0 750.0,1280.7 768.0,1312.6 786.0,1312.6 804.0,1290.6 822.0,1277.5 840.0,1264.0 858.0,1247.8 876.0,1226.0 894.0,1220.4 912.0,1213.8 930.0,1210.5 948.0,1181.0 966.0,1100.9 984.0,1063.6 1002.0,1024.0 1020.0,1040.6 1038.0,1027.4 1056.0,1015.4 1074.0,1027.4 1092.0,1031.0 1110.0,1003.7 1128.0,970.8 1146.0,968.6 1164.0,970.8 1182.0,1007.0 1200.0,978.5 1218.0,944.5 1236.0,934.6 1254.0,913.8 1272.0,900.6 1290.0,882.0 1308.0,893.0 1326.0,902.8 1344.0,943.4 1362.0,954.3 1380.0,988.5 1398.0,1018.0 1416.0,1045.0 1434.0,1069.5 1452.0,1087.5 1470.0,1135.0 1488.0,1203.6 1506.0,1263.0 1524.0,1243.0 1542.0,1175.5 1560.0,1132.0 1578.0,1159.7" fill="none" stroke="#72f6f9" stroke-width="6" stroke-linejoin="miter" stroke-miterlimit="6"/>
<rect x="568.00" y="1067.00" width="2.00" height="30.00" fill="#2f7d1e" />
<rect x="570.00" y="1067.00" width="2.00" height="30.00" fill="#000" />
<rect x="586.00" y="1069.00" width="2.00" height="36.00" fill="#2f7d1e" />
<rect x="588.00" y="1069.00" width="2.00" height="36.00" fill="#000" />
<rect x="604.00" y="1077.00" width="2.00" height="58.00" fill="#2f7d1e" />
<rect x="606.00" y="1077.00" width="2.00" height="58.00" fill="#000" />
<rect x="622.00" y="1115.00" width="2.00" height="18.00" fill="#2f7d1e" />
<rect x="624.00" y="1115.00" width="2.00" height="18.00" fill="#000" />
<rect x="640.00" y="1113.00" width="2.00" height="18.00" fill="#2f7d1e" />
<rect x="642.00" y="1113.00" width="2.00" height="18.00" fill="#000" />
<rect x="658.00" y="1111.00" width="2.00" height="62.00" fill="#2f7d1e" />
<rect x="660.00" y="1111.00" width="2.00" height="62.00" fill="#000" />
<rect x="676.00" y="1149.00" width="2.00" height="18.00" fill="#2f7d1e" />
<rect x="678.00" y="1149.00" width="2.00" height="18.00" fill="#000" />
<rect x="694.00" y="1149.00" width="2.00" height="32.00" fill="#2f7d1e" />
<rect x="696.00" y="1149.00" width="2.00" height="32.00" fill="#000" />
<rect x="712.00" y="1157.00" width="2.00" height="22.00" fill="#2f7d1e" />
<rect x="714.00" y="1157.00" width="2.00" height="22.00" fill="#000" />
<rect x="730.00" y="1153.00" width="2.00" height="42.00" fill="#2f7d1e" />
<rect x="732.00" y="1153.00" width="2.00" height="42.00" fill="#000" />
<rect x="748.00" y="1189.00" width="2.00" height="66.00" fill="#2f7d1e" />
<rect x="750.00" y="1189.00" width="2.00" height="66.00" fill="#000" />
<rect x="766.00" y="1233.00" width="2.00" height="56.00" fill="#2f7d1e" />
<rect x="768.00" y="1233.00" width="2.00" height="56.00" fill="#000" />
<rect x="784.00" y="1235.00" width="2.00" height="38.00" fill="#2f7d1e" />
<rect x="786.00" y="1235.00" width="2.00" height="38.00" fill="#000" />
<rect x="802.00" y="1225.00" width="2.00" height="16.00" fill="#2f7d1e" />
<rect x="804.00" y="1225.00" width="2.00" height="16.00" fill="#000" />
<rect x="820.00" y="1223.00" width="2.00" height="28.00" fill="#2f7d1e" />
<rect x="822.00" y="1223.00" width="2.00" height="28.00" fill="#000" />
<rect x="838.00" y="1229.00" width="2.00" height="26.00" fill="#2f7d1e" />
<rect x="840.00" y="1229.00" width="2.00" height="26.00" fill="#000" />
<rect x="856.00" y="1227.00" width="2.00" height="10.00" fill="#2f7d1e" />
<rect x="858.00" y="1227.00" width="2.00" height="10.00" fill="#000" />
<rect x="874.00" y="1207.00" width="2.00" height="18.00" fill="#2f7d1e" />
<rect x="876.00" y="1207.00" width="2.00" height="18.00" fill="#000" />
<rect x="892.00" y="1209.00" width="2.00" height="42.00" fill="#2f7d1e" />
<rect x="894.00" y="1209.00" width="2.00" height="42.00" fill="#000" />
<rect x="910.00" y="1225.00" width="2.00" height="64.00" fill="#2f7d1e" />
<rect x="912.00" y="1225.00" width="2.00" height="64.00" fill="#000" />
<rect x="928.00" y="1209.00" width="2.00" height="36.00" fill="#2f7d1e" />
<rect x="930.00" y="1209.00" width="2.00" height="36.00" fill="#000" />
<rect x="946.00" y="1217.00" width="2.00" height="38.00" fill="#2f7d1e" />
<rect x="948.00" y="1217.00" width="2.00" height="38.00" fill="#000" />
<rect x="964.00" y="1155.00" width="2.00" height="46.00" fill="#2f7d1e" />
<rect x="966.00" y="1155.00" width="2.00" height="46.00" fill="#000" />
<rect x="982.00" y="1173.00" width="2.00" height="42.00" fill="#2f7d1e" />
<rect x="984.00" y="1173.00" width="2.00" height="42.00" fill="#000" />
<rect x="1000.00" y="1177.00" width="2.00" height="34.00" fill="#2f7d1e" />
<rect x="1002.00" y="1177.00" width="2.00" height="34.00" fill="#000" />
<rect x="1018.00" y="1179.00" width="2.00" height="28.00" fill="#2f7d1e" />
<rect x="1020.00" y="1179.00" width="2.00" height="28.00" fill="#000" />
<rect x="1036.00" y="1167.00" width="2.00" height="20.00" fill="#2f7d1e" />
<rect x="1038.00" y="1167.00" width="2.00" height="20.00" fill="#000" />
<rect x="1054.00" y="1151.00" width="2.00" height="20.00" fill="#2f7d1e" />
<rect x="1056.00" y="1151.00" width="2.00" height="20.00" fill="#000" />
<rect x="1072.00" y="1157.00" width="2.00" height="32.00" fill="#2f7d1e" />
<rect x="1074.00" y="1157.00" width="2.00" height="32.00" fill="#000" />
<rect x="1090.00" y="1149.00" width="2.00" height="34.00" fill="#2f7d1e" />
<rect x="1092.00" y="1149.00" width="2.00" height="34.00" fill="#000" />
<rect x="1306.00" y="905.00" width="2.00" height="52.00" fill="#2f7d1e" />
<rect x="1308.00" y="905.00" width="2.00" height="52.00" fill="#000" />
<rect x="1324.00" y="927.00" width="2.00" height="32.00" fill="#2f7d1e" />
<rect x="1326.00" y="927.00" width="2.00" height="32.00" fill="#000" />
<rect x="1342.00" y="955.00" width="2.00" height="52.00" fill="#2f7d1e" />
<rect x="1344.00" y="955.00" width="2.00" height="52.00" fill="#000" />
<rect x="1360.00" y="983.00" width="2.00" height="38.00" fill="#2f7d1e" />
<rect x="1362.00" y="983.00" width="2.00" height="38.00" fill="#000" />
<rect x="1378.00" y="1017.00" width="2.00" height="26.00" fill="#2f7d1e" />
<rect x="1380.00" y="1017.00" width="2.00" height="26.00" fill="#000" />
<rect x="1396.00" y="1047.00" width="2.00" height="56.00" fill="#2f7d1e" />
<rect x="1398.00" y="1047.00" width="2.00" height="56.00" fill="#000" />
<rect x="1414.00" y="1057.00" width="2.00" height="24.00" fill="#2f7d1e" />
<rect x="1416.00" y="1057.00" width="2.00" height="24.00" fill="#000" />
<rect x="1432.00" y="1103.00" width="2.00" height="30.00" fill="#2f7d1e" />
<rect x="1434.00" y="1103.00" width="2.00" height="30.00" fill="#000" />
<rect x="1450.00" y="1091.00" width="2.00" height="50.00" fill="#2f7d1e" />
<rect x="1452.00" y="1091.00" width="2.00" height="50.00" fill="#000" />
<rect x="1468.00" y="1127.00" width="2.00" height="56.00" fill="#2f7d1e" />
<rect x="1470.00" y="1127.00" width="2.00" height="56.00" fill="#000" />
<rect x="1486.00" y="1115.00" width="2.00" height="48.00" fill="#2f7d1e" />
<rect x="1488.00" y="1115.00" width="2.00" height="48.00" fill="#000" />
<rect x="1504.00" y="1111.00" width="2.00" height="40.00" fill="#2f7d1e" />
<rect x="1506.00" y="1111.00" width="2.00" height="40.00" fill="#000" />
<rect x="1522.00" y="1055.00" width="2.00" height="50.00" fill="#2f7d1e" />
<rect x="1524.00" y="1055.00" width="2.00" height="50.00" fill="#000" />
<rect x="1540.00" y="999.00" width="2.00" height="20.00" fill="#2f7d1e" />
<rect x="1542.00" y="999.00" width="2.00" height="20.00" fill="#000" />
<rect x="1558.00" y="1013.00" width="2.00" height="28.00" fill="#2f7d1e" />
<rect x="1560.00" y="1013.00" width="2.00" height="28.00" fill="#000" />
<rect x="1576.00" y="1157.00" width="2.00" height="60.00" fill="#2f7d1e" />
<rect x="1578.00" y="1157.00" width="2.00" height="60.00" fill="#000" />
<rect x="152.00" y="1219.00" width="10.00" height="8.00" fill="#a52318" />
<rect x="158.00" y="1227.00" width="4.00" height="1.10" fill="#000" />
<rect x="170.00" y="1191.00" width="10.00" height="16.00" fill="#a52318" />
<rect x="176.00" y="1207.00" width="4.00" height="1.10" fill="#000" />
<rect x="188.00" y="1211.00" width="10.00" height="2.00" fill="#50b232" />
<rect x="194.00" y="1209.90" width="4.00" height="1.10" fill="#000" />
<rect x="206.00" y="1199.00" width="10.00" height="40.00" fill="#a52318" />
<rect x="212.00" y="1239.00" width="4.00" height="1.10" fill="#000" />
<rect x="224.00" y="1249.00" width="10.00" height="2.00" fill="#a52318" />
<rect x="230.00" y="1251.00" width="4.00" height="1.10" fill="#000" />
<rect x="242.00" y="1205.00" width="10.00" height="2.00" fill="#a52318" />
<rect x="248.00" y="1207.00" width="4.00" height="1.10" fill="#000" />
<rect x="260.00" y="1203.00" width="10.00" height="22.00" fill="#a52318" />
<rect x="266.00" y="1225.00" width="4.00" height="1.10" fill="#000" />
<rect x="278.00" y="1197.00" width="10.00" height="8.00" fill="#a52318" />
<rect x="284.00" y="1205.00" width="4.00" height="1.10" fill="#000" />
<rect x="296.00" y="1223.00" width="10.00" height="2.00" fill="#50b232" />
<rect x="302.00" y="1221.90" width="4.00" height="1.10" fill="#000" />
<rect x="314.00" y="1181.00" width="10.00" height="16.00" fill="#50b232" />
<rect x="320.00" y="1179.90" width="4.00" height="1.10" fill="#000" />
<rect x="332.00" y="1153.00" width="10.00" height="20.00" fill="#50b232" />
<rect x="338.00" y="1151.90" width="4.00" height="1.10" fill="#000" />
<rect x="350.00" y="1165.00" width="10.00" height="12.00" fill="#50b232" />
<rect x="356.00" y="1163.90" width="4.00" height="1.10" fill="#000" />
<rect x="368.00" y="1137.00" width="10.00" height="18.00" fill="#50b232" />
<rect x="374.00" y="1135.90" width="4.00" height="1.10" fill="#000" />
<rect x="386.00" y="1123.00" width="10.00" height="8.00" fill="#50b232" />
<rect x="392.00" y="1121.90" width="4.00" height="1.10" fill="#000" />
<rect x="404.00" y="1123.00" width="10.00" height="6.00" fill="#50b232" />
<rect x="410.00" y="1121.90" width="4.00" height="1.10" fill="#000" />
<rect x="422.00" y="1117.00" width="10.00" height="10.00" fill="#a52318" />
<rect x="428.00" y="1127.00" width="4.00" height="1.10" fill="#000" />
<rect x="440.00" y="1123.00" width="10.00" height="26.00" fill="#a52318" />
<rect x="446.00" y="1149.00" width="4.00" height="1.10" fill="#000" />
<rect x="458.00" y="1077.00" width="10.00" height="2.00" fill="#50b232" />
<rect x="464.00" y="1075.90" width="4.00" height="1.10" fill="#000" />
<rect x="476.00" y="1057.00" width="10.00" height="12.00" fill="#a52318" />
<rect x="482.00" y="1069.00" width="4.00" height="1.10" fill="#000" />
<rect x="494.00" y="1067.00" width="10.00" height="20.00" fill="#a52318" />
<rect x="500.00" y="1087.00" width="4.00" height="1.10" fill="#000" />
<rect x="512.00" y="1071.00" width="10.00" height="16.00" fill="#50b232" />
<rect x="518.00" y="1069.90" width="4.00" height="1.10" fill="#000" />
<rect x="530.00" y="1047.00" width="10.00" height="10.00" fill="#a52318" />
<rect x="536.00" y="1057.00" width="4.00" height="1.10" fill="#000" />
<rect x="548.00" y="1045.00" width="10.00" height="12.00" fill="#a52318" />
<rect x="554.00" y="1057.00" width="4.00" height="1.10" fill="#000" />
<rect x="566.00" y="1067.00" width="10.00" height="14.00" fill="#a52318" />
<rect x="572.00" y="1081.00" width="4.00" height="1.10" fill="#000" />
<rect x="584.00" y="1071.00" width="10.00" height="24.00" fill="#a52318" />
<rect x="590.00" y="1095.00" width="4.00" height="1.10" fill="#000" />
<rect x="602.00" y="1081.00" width="10.00" height="46.00" fill="#a52318" />
<rect x="608.00" y="1127.00" width="4.00" height="1.10" fill="#000" />
<rect x="620.00" y="1125.00" width="10.00" height="4.00" fill="#a52318" />
<rect x="626.00" y="1129.00" width="4.00" height="1.10" fill="#000" />
<rect x="638.00" y="1123.00" width="10.00" height="6.00" fill="#50b232" />
<rect x="644.00" y="1121.90" width="4.00" height="1.10" fill="#000" />
<rect x="656.00" y="1115.00" width="10.00" height="40.00" fill="#a52318" />
<rect x="662.00" y="1155.00" width="4.00" height="1.10" fill="#000" />
<rect x="674.00" y="1157.00" width="10.00" height="8.00" fill="#a52318" />
<rect x="680.00" y="1165.00" width="4.00" height="1.10" fill="#000" />
<rect x="692.00" y="1153.00" width="10.00" height="26.00" fill="#a52318" />
<rect x="698.00" y="1179.00" width="4.00" height="1.10" fill="#000" />
<rect x="710.00" y="1161.00" width="10.00" height="14.00" fill="#a52318" />
<rect x="716.00" y="1175.00" width="4.00" height="1.10" fill="#000" />
<rect x="728.00" y="1153.00" width="10.00" height="36.00" fill="#a52318" />
<rect x="734.00" y="1189.00" width="4.00" height="1.10" fill="#000" />
<rect x="746.00" y="1199.00" width="10.00" height="42.00" fill="#a52318" />
<rect x="752.00" y="1241.00" width="4.00" height="1.10" fill="#000" />
<rect x="764.00" y="1241.00" width="10.00" height="10.00" fill="#a52318" />
<rect x="770.00" y="1251.00" width="4.00" height="1.10" fill="#000" />
<rect x="782.00" y="1257.00" width="10.00" height="16.00" fill="#50b232" />
<rect x="788.00" y="1255.90" width="4.00" height="1.10" fill="#000" />
<rect x="800.00" y="1229.00" width="10.00" height="4.00" fill="#a52318" />
<rect x="806.00" y="1233.00" width="4.00" height="1.10" fill="#000" />
<rect x="818.00" y="1227.00" width="10.00" height="20.00" fill="#a52318" />
<rect x="824.00" y="1247.00" width="4.00" height="1.10" fill="#000" />
<rect x="836.00" y="1243.00" width="10.00" height="2.00" fill="#a52318" />
<rect x="842.00" y="1245.00" width="4.00" height="1.10" fill="#000" />
<rect x="854.00" y="1227.00" width="10.00" height="2.00" fill="#a52318" />
<rect x="860.00" y="1229.00" width="4.00" height="1.10" fill="#000" />
<rect x="872.00" y="1211.00" width="10.00" height="10.00" fill="#a52318" />
<rect x="878.00" y="1221.00" width="4.00" height="1.10" fill="#000" />
<rect x="890.00" y="1209.00" width="10.00" height="40.00" fill="#a52318" />
<rect x="896.00" y="1249.00" width="4.00" height="1.10" fill="#000" />
<rect x="908.00" y="1251.00" width="10.00" height="2.00" fill="#50b232" />
<rect x="914.00" y="1249.90" width="4.00" height="1.10" fill="#000" />
<rect x="926.00" y="1231.00" width="10.00" height="12.00" fill="#a52318" />
<rect x="932.00" y="1243.00" width="4.00" height="1.10" fill="#000" />
<rect x="944.00" y="1223.00" width="10.00" height="14.00" fill="#50b232" />
<rect x="950.00" y="1221.90" width="4.00" height="1.10" fill="#000" />
<rect x="962.00" y="1165.00" width="10.00" height="28.00" fill="#50b232" />
<rect x="968.00" y="1163.90" width="4.00" height="1.10" fill="#000" />
<rect x="980.00" y="1181.00" width="10.00" height="24.00" fill="#a52318" />
<rect x="986.00" y="1205.00" width="4.00" height="1.10" fill="#000" />
<rect x="998.00" y="1191.00" width="10.00" height="4.00" fill="#50b232" />
<rect x="1004.00" y="1189.90" width="4.00" height="1.10" fill="#000" />
<rect x="1016.00" y="1187.00" width="10.00" height="20.00" fill="#50b232" />
<rect x="1022.00" y="1185.90" width="4.00" height="1.10" fill="#000" />
<rect x="1034.00" y="1173.00" width="10.00" height="6.00" fill="#a52318" />
<rect x="1040.00" y="1179.00" width="4.00" height="1.10" fill="#000" />
<rect x="1052.00" y="1163.00" width="10.00" height="4.00" fill="#50b232" />
<rect x="1058.00" y="1161.90" width="4.00" height="1.10" fill="#000" />
<rect x="1070.00" y="1169.00" width="10.00" height="10.00" fill="#a52318" />
<rect x="1076.00" y="1179.00" width="4.00" height="1.10" fill="#000" />
<rect x="1088.00" y="1161.00" width="10.00" height="16.00" fill="#50b232" />
<rect x="1094.00" y="1159.90" width="4.00" height="1.10" fill="#000" />
<rect x="1106.00" y="1157.00" width="10.00" height="16.00" fill="#50b232" />
<rect x="1112.00" y="1155.90" width="4.00" height="1.10" fill="#000" />
<rect x="1124.00" y="1135.00" width="10.00" height="26.00" fill="#50b232" />
<rect x="1130.00" y="1133.90" width="4.00" height="1.10" fill="#000" />
<rect x="1142.00" y="1135.00" width="10.00" height="18.00" fill="#a52318" />
<rect x="1148.00" y="1153.00" width="4.00" height="1.10" fill="#000" />
<rect x="1160.00" y="1133.00" width="10.00" height="8.00" fill="#50b232" />
<rect x="1166.00" y="1131.90" width="4.00" height="1.10" fill="#000" />
<rect x="1178.00" y="1135.00" width="10.00" height="12.00" fill="#a52318" />
<rect x="1184.00" y="1147.00" width="4.00" height="1.10" fill="#000" />
<rect x="1196.00" y="1133.00" width="10.00" height="6.00" fill="#50b232" />
<rect x="1202.00" y="1131.90" width="4.00" height="1.10" fill="#000" />
<rect x="1214.00" y="1087.00" width="10.00" height="30.00" fill="#50b232" />
<rect x="1220.00" y="1085.90" width="4.00" height="1.10" fill="#000" />
<rect x="1232.00" y="1099.00" width="10.00" height="8.00" fill="#a52318" />
<rect x="1238.00" y="1107.00" width="4.00" height="1.10" fill="#000" />
<rect x="1250.00" y="993.00" width="10.00" height="40.00" fill="#50b232" />
<rect x="1256.00" y="991.90" width="4.00" height="1.10" fill="#000" />
<rect x="1268.00" y="945.00" width="10.00" height="60.00" fill="#50b232" />
<rect x="1274.00" y="943.90" width="4.00" height="1.10" fill="#000" />
<rect x="1286.00" y="919.00" width="10.00" height="10.00" fill="#a52318" />
<rect x="1292.00" y="929.00" width="4.00" height="1.10" fill="#000" />
<rect x="1304.00" y="919.00" width="10.00" height="34.00" fill="#a52318" />
<rect x="1310.00" y="953.00" width="4.00" height="1.10" fill="#000" />
<rect x="1322.00" y="949.00" width="10.00" height="6.00" fill="#50b232" />
<rect x="1328.00" y="947.90" width="4.00" height="1.10" fill="#000" />
<rect x="1340.00" y="959.00" width="10.00" height="44.00" fill="#a52318" />
<rect x="1346.00" y="1003.00" width="4.00" height="1.10" fill="#000" />
<rect x="1358.00" y="993.00" width="10.00" height="12.00" fill="#50b232" />
<rect x="1364.00" y="991.90" width="4.00" height="1.10" fill="#000" />
<rect x="1376.00" y="1027.00" width="10.00" height="6.00" fill="#a52318" />
<rect x="1382.00" y="1033.00" width="4.00" height="1.10" fill="#000" />
<rect x="1394.00" y="1059.00" width="10.00" height="20.00" fill="#a52318" />
<rect x="1400.00" y="1079.00" width="4.00" height="1.10" fill="#000" />
<rect x="1412.00" y="1067.00" width="10.00" height="6.00" fill="#a52318" />
<rect x="1418.00" y="1073.00" width="4.00" height="1.10" fill="#000" />
<rect x="1430.00" y="1105.00" width="10.00" height="8.00" fill="#a52318" />
<rect x="1436.00" y="1113.00" width="4.00" height="1.10" fill="#000" />
<rect x="1448.00" y="1111.00" width="10.00" height="18.00" fill="#a52318" />
<rect x="1454.00" y="1129.00" width="4.00" height="1.10" fill="#000" />
<rect x="1466.00" y="1133.00" width="10.00" height="12.00" fill="#a52318" />
<rect x="1472.00" y="1145.00" width="4.00" height="1.10" fill="#000" />
<rect x="1484.00" y="1137.00" width="10.00" height="14.00" fill="#a52318" />
<rect x="1490.00" y="1151.00" width="4.00" height="1.10" fill="#000" />
<rect x="1502.00" y="1121.00" width="10.00" height="22.00" fill="#50b232" />
<rect x="1508.00" y="1119.90" width="4.00" height="1.10" fill="#000" />
<rect x="1520.00" y="1075.00" width="10.00" height="22.00" fill="#50b232" />
<rect x="1526.00" y="1073.90" width="4.00" height="1.10" fill="#000" />
<rect x="1538.00" y="1013.00" width="10.00" height="2.00" fill="#50b232" />
<rect x="1544.00" y="1011.90" width="4.00" height="1.10" fill="#000" />
<rect x="1556.00" y="1023.00" width="10.00" height="6.00" fill="#50b232" />
<rect x="1562.00" y="1021.90" width="4.00" height="1.10" fill="#000" />
<rect x="1574.00" y="1163.00" width="10.00" height="42.00" fill="#a52318" />
<rect x="1580.00" y="1205.00" width="4.00" height="1.10" fill="#000" />
</g>
<g clip-path="url(#c4)">
<rect x="154.00" y="1209.00" width="4.00" height="20.00" fill="#4b82b4" />
<rect x="172.00" y="1187.00" width="4.00" height="32.00" fill="#4b82b4" />
<rect x="190.00" y="1195.00" width="4.00" height="34.00" fill="#4b82b4" />
<rect x="208.00" y="1199.00" width="4.00" height="50.00" fill="#4b82b4" />
<rect x="226.00" y="1233.00" width="4.00" height="28.00" fill="#4b82b4" />
<rect x="244.00" y="1195.00" width="4.00" height="24.00" fill="#4b82b4" />
<rect x="262.00" y="1193.00" width="4.00" height="32.00" fill="#4b82b4" />
<rect x="280.00" y="1191.00" width="4.00" height="22.00" fill="#4b82b4" />
<rect x="298.00" y="1207.00" width="4.00" height="28.00" fill="#4b82b4" />
<rect x="316.00" y="1181.00" width="4.00" height="22.00" fill="#4b82b4" />
<rect x="334.00" y="1129.00" width="4.00" height="46.00" fill="#4b82b4" />
<rect x="352.00" y="1155.00" width="4.00" height="24.00" fill="#4b82b4" />
<rect x="370.00" y="1111.00" width="4.00" height="46.00" fill="#4b82b4" />
<rect x="388.00" y="1105.00" width="4.00" height="26.00" fill="#4b82b4" />
<rect x="406.00" y="1101.00" width="4.00" height="32.00" fill="#4b82b4" />
<rect x="424.00" y="1117.00" width="4.00" height="26.00" fill="#4b82b4" />
<rect x="442.00" y="1117.00" width="4.00" height="40.00" fill="#4b82b4" />
<rect x="460.00" y="1053.00" width="4.00" height="44.00" fill="#4b82b4" />
<rect x="478.00" y="1045.00" width="4.00" height="44.00" fill="#4b82b4" />
<rect x="496.00" y="1057.00" width="4.00" height="36.00" fill="#4b82b4" />
<rect x="514.00" y="1057.00" width="4.00" height="30.00" fill="#4b82b4" />
<rect x="532.00" y="1037.00" width="4.00" height="22.00" fill="#4b82b4" />
<rect x="550.00" y="1037.00" width="4.00" height="28.00" fill="#4b82b4" />
<rect x="1108.00" y="1145.00" width="4.00" height="34.00" fill="#4b82b4" />
<rect x="1126.00" y="1131.00" width="4.00" height="34.00" fill="#4b82b4" />
<rect x="1144.00" y="1133.00" width="4.00" height="32.00" fill="#4b82b4" />
<rect x="1162.00" y="1129.00" width="4.00" height="16.00" fill="#4b82b4" />
<rect x="1180.00" y="1129.00" width="4.00" height="28.00" fill="#4b82b4" />
<rect x="1198.00" y="1117.00" width="4.00" height="22.00" fill="#4b82b4" />
<rect x="1216.00" y="1075.00" width="4.00" height="46.00" fill="#4b82b4" />
<rect x="1234.00" y="1097.00" width="4.00" height="28.00" fill="#4b82b4" />
<rect x="1252.00" y="967.00" width="4.00" height="70.00" fill="#4b82b4" />
<rect x="1270.00" y="929.00" width="4.00" height="78.00" fill="#4b82b4" />
<rect x="1288.00" y="905.00" width="4.00" height="34.00" fill="#4b82b4" />
<polyline points="156.5,1181.0 174.0,1174.8 264.0,1155.3 282.0,1149.0 390.0,1123.9 408.0,1120.0 440.0,1112.4 497.7,1099.0 516.2,1092.7 568.0,1081.2" fill="none" stroke="#4a7eb0" stroke-width="1.8" />
<rect x="568.70" y="1078.30" width="4.00" height="5.20" fill="#000" />
<polyline points="1110.0,1156.2 1308.0,953.2" fill="none" stroke="#4a7eb0" stroke-width="1.8" />
<rect x="1109.00" y="1154.70" width="4.20" height="5.00" fill="#000" />
<rect x="1307.00" y="950.40" width="4.00" height="6.20" fill="#000" />
<line x1="141.30" y1="1256.90" x2="1600.40" y2="1256.90" stroke="#5f8c28" stroke-width="5.5" />
<rect x="569.30" y="1014.80" width="4.40" height="28.20" fill="#3c6e35" />
<rect x="569.10" y="1014.80" width="0.80" height="28.20" fill="#b8a868" />
<rect x="573.10" y="1014.80" width="0.80" height="28.20" fill="#4b82b4" />
<path d="M561.2 1042.0 h20.5 l-10.25 11 z" fill="#3c6e35"/>
<rect x="1307.30" y="860.00" width="4.40" height="19.80" fill="#3c6e35" />
<rect x="1307.10" y="860.00" width="0.80" height="19.80" fill="#b8a868" />
<rect x="1311.10" y="860.00" width="0.80" height="19.80" fill="#4b82b4" />
<path d="M1299.2 878.8 h20.5 l-10.25 11 z" fill="#3c6e35"/>
<rect x="1106.40" y="1206.60" width="4.40" height="28.20" fill="#3c6e35" />
<rect x="1106.20" y="1206.60" width="0.80" height="28.20" fill="#b8a868" />
<rect x="1110.20" y="1206.60" width="0.80" height="28.20" fill="#4b82b4" />
<path d="M1098.3 1207.6 h20.5 l-10.25 -11 z" fill="#3c6e35"/>
<rect x="525.00" y="969.20" width="90.40" height="37.60" fill="#fff" stroke="#b4b4b4" stroke-width="2"/>
<text transform="translate(531.70 995.70) scale(1.0213 1)" font-size="24" fill="#4a962c" stroke="#4a962c" stroke-width="0.4" >+8.090</text>
</g>
<text transform="translate(151.39 871.30) scale(1.0190 1)" font-size="22.8" fill="#000" stroke="#000" stroke-width="0.4" >Bars:</text>
<rect x="208.80" y="854.50" width="2.00" height="22.50" fill="#2f7d1e" />
<text transform="translate(212.32 871.30) scale(1.1677 1)" font-size="22.8" fill="#000" stroke="#000" stroke-width="0.4" >-</text>
<text transform="translate(244.33 871.30) scale(1.0072 1)" font-size="22.8" fill="#000" stroke="#000" stroke-width="0.4" >Candlesticks:</text>
<text transform="translate(381.39 871.30) scale(1.0292 1)" font-size="22.8" fill="#4aa02c" stroke="#4aa02c" stroke-width="0.4" >Up</text>
<text transform="translate(412.22 871.30) scale(1.1619 1)" font-size="22.8" fill="#000" stroke="#000" stroke-width="0.4" >,</text>
<text transform="translate(420.64 871.30) scale(0.9920 1)" font-size="22.8" fill="#a52318" stroke="#a52318" stroke-width="0.4" >Down</text>
<text transform="translate(500.74 871.30) scale(0.9403 1)" font-size="22.8" fill="#000" stroke="#000" stroke-width="0.4" >EXCAL TEST P2 ULTRA:</text>
<text transform="translate(747.60 870.70) scale(0.8669 1)" font-size="22.8" fill="#4a7eb0" stroke="#4a7eb0" stroke-width="0.4" >___</text>
<text transform="translate(805.68 871.30) scale(0.9757 1)" font-size="22.8" fill="#000" stroke="#000" stroke-width="0.4" >M2F ALT:</text>
<text transform="translate(904.80 870.70) scale(0.8643 1)" font-size="22.8" fill="#72f6f9" stroke="#72f6f9" stroke-width="0.4" >___</text>
<text transform="translate(1609.94 922.80) scale(0.9678 1)" font-size="22.8" fill="#000" stroke="#000" stroke-width="0.4" >85.00000</text>
<text transform="translate(1609.94 974.80) scale(0.9678 1)" font-size="22.8" fill="#000" stroke="#000" stroke-width="0.4" >82.50000</text>
<text transform="translate(1609.94 1026.80) scale(0.9678 1)" font-size="22.8" fill="#000" stroke="#000" stroke-width="0.4" >80.00000</text>
<text transform="translate(1609.77 1078.80) scale(0.9678 1)" font-size="22.8" fill="#000" stroke="#000" stroke-width="0.4" >77.50000</text>
<text transform="translate(1609.77 1130.80) scale(0.9678 1)" font-size="22.8" fill="#000" stroke="#000" stroke-width="0.4" >75.00000</text>
<text transform="translate(1609.77 1182.80) scale(0.9678 1)" font-size="22.8" fill="#000" stroke="#000" stroke-width="0.4" >72.50000</text>
<text transform="translate(1609.77 1234.80) scale(0.9678 1)" font-size="22.8" fill="#000" stroke="#000" stroke-width="0.4" >70.00000</text>
<text transform="translate(1609.78 1286.80) scale(0.9678 1)" font-size="22.8" fill="#000" stroke="#000" stroke-width="0.4" >67.50000</text>
<path d="M1706.75 858.50 h8.50 v1.3 l-4.25 3.70 z" fill="#000"/>
<g clip-path="url(#cr)"><g filter="url(#sh)"><rect x="1596" y="1183.3" width="138" height="42.5" fill="#f3dcd9"/></g></g>
<g clip-path="url(#cr)"><g filter="url(#sh)"><rect x="1596" y="1183.3" width="138" height="42.5" fill="#f3dcd9"/></g></g>
<text transform="translate(1609.77 1212.00) scale(0.9678 1)" font-size="22.8" fill="#7f150e" stroke="#7f150e" stroke-width="0.4" >71.08000</text>
<rect x="141.20" y="1390.00" width="1457.40" height="2.00" fill="#e2e2e2" />
<rect x="1082.00" y="1348.00" width="2.00" height="92.00" fill="#f0f0f0" />
<line x1="156.00" y1="1390.70" x2="1578.00" y2="1390.70" stroke="#5271a2" stroke-width="5.9" />
<text transform="translate(151.48 1339.40) scale(0.9669 1)" font-size="22.8" fill="#000" stroke="#000" stroke-width="0.4" >COUNT3 SPIN:</text>
<text transform="translate(307.49 1338.80) scale(0.8514 1)" font-size="22.8" fill="#4a74b0" stroke="#4a74b0" stroke-width="0.4" >___</text>
<path d="M1706.75 1325.90 h8.50 v1.3 l-4.25 3.70 z" fill="#000"/>
<g clip-path="url(#cr)"><g filter="url(#sh)"><rect x="1596" y="1371.0" width="138" height="41.8" fill="#e6eaf3"/></g></g>
<text transform="translate(1609.22 1399.20) scale(0.9678 1)" font-size="22.8" fill="#2f4466" stroke="#2f4466" stroke-width="0.4" >1.00000</text>
<line x1="1602.00" y1="1390.60" x2="1606.00" y2="1390.60" stroke="#606060" stroke-width="1.8" />
<line x1="156.00" y1="1446.20" x2="156.00" y2="1448.00" stroke="#777" stroke-width="1.2" />
<line x1="174.00" y1="1446.20" x2="174.00" y2="1448.00" stroke="#777" stroke-width="1.2" />
<line x1="192.00" y1="1446.20" x2="192.00" y2="1448.00" stroke="#777" stroke-width="1.2" />
<line x1="210.00" y1="1446.20" x2="210.00" y2="1448.00" stroke="#777" stroke-width="1.2" />
<line x1="228.00" y1="1446.20" x2="228.00" y2="1448.00" stroke="#777" stroke-width="1.2" />
<line x1="246.00" y1="1446.20" x2="246.00" y2="1448.00" stroke="#777" stroke-width="1.2" />
<line x1="264.00" y1="1446.20" x2="264.00" y2="1448.00" stroke="#777" stroke-width="1.2" />
<line x1="282.00" y1="1446.20" x2="282.00" y2="1448.00" stroke="#777" stroke-width="1.2" />
<line x1="300.00" y1="1446.20" x2="300.00" y2="1448.00" stroke="#777" stroke-width="1.2" />
<line x1="318.00" y1="1446.20" x2="318.00" y2="1448.00" stroke="#777" stroke-width="1.2" />
<line x1="336.00" y1="1446.20" x2="336.00" y2="1448.00" stroke="#777" stroke-width="1.2" />
<line x1="354.00" y1="1446.20" x2="354.00" y2="1448.00" stroke="#777" stroke-width="1.2" />
<line x1="372.00" y1="1446.20" x2="372.00" y2="1448.00" stroke="#777" stroke-width="1.2" />
<line x1="390.00" y1="1446.20" x2="390.00" y2="1448.00" stroke="#777" stroke-width="1.2" />
<line x1="408.00" y1="1446.20" x2="408.00" y2="1448.00" stroke="#777" stroke-width="1.2" />
<line x1="426.00" y1="1446.20" x2="426.00" y2="1448.00" stroke="#777" stroke-width="1.2" />
<line x1="444.00" y1="1446.20" x2="444.00" y2="1448.00" stroke="#777" stroke-width="1.2" />
<line x1="462.00" y1="1446.20" x2="462.00" y2="1448.00" stroke="#777" stroke-width="1.2" />
<line x1="480.00" y1="1446.20" x2="480.00" y2="1448.00" stroke="#777" stroke-width="1.2" />
<line x1="498.00" y1="1446.20" x2="498.00" y2="1448.00" stroke="#777" stroke-width="1.2" />
<line x1="516.00" y1="1446.20" x2="516.00" y2="1448.00" stroke="#777" stroke-width="1.2" />
<line x1="534.00" y1="1446.20" x2="534.00" y2="1448.00" stroke="#777" stroke-width="1.2" />
<line x1="552.00" y1="1446.20" x2="552.00" y2="1448.00" stroke="#777" stroke-width="1.2" />
<line x1="570.00" y1="1446.20" x2="570.00" y2="1448.00" stroke="#777" stroke-width="1.2" />
<line x1="588.00" y1="1446.20" x2="588.00" y2="1448.00" stroke="#777" stroke-width="1.2" />
<line x1="606.00" y1="1446.20" x2="606.00" y2="1448.00" stroke="#777" stroke-width="1.2" />
<line x1="624.00" y1="1446.20" x2="624.00" y2="1448.00" stroke="#777" stroke-width="1.2" />
<line x1="642.00" y1="1446.20" x2="642.00" y2="1448.00" stroke="#777" stroke-width="1.2" />
<line x1="660.00" y1="1446.20" x2="660.00" y2="1448.00" stroke="#777" stroke-width="1.2" />
<line x1="678.00" y1="1446.20" x2="678.00" y2="1448.00" stroke="#777" stroke-width="1.2" />
<line x1="696.00" y1="1446.20" x2="696.00" y2="1448.00" stroke="#777" stroke-width="1.2" />
<line x1="714.00" y1="1446.20" x2="714.00" y2="1448.00" stroke="#777" stroke-width="1.2" />
<line x1="732.00" y1="1446.20" x2="732.00" y2="1448.00" stroke="#777" stroke-width="1.2" />
<line x1="750.00" y1="1446.20" x2="750.00" y2="1448.00" stroke="#777" stroke-width="1.2" />
<line x1="768.00" y1="1446.20" x2="768.00" y2="1448.00" stroke="#777" stroke-width="1.2" />
<line x1="786.00" y1="1446.20" x2="786.00" y2="1448.00" stroke="#777" stroke-width="1.2" />
<line x1="804.00" y1="1446.20" x2="804.00" y2="1448.00" stroke="#777" stroke-width="1.2" />
<line x1="822.00" y1="1446.20" x2="822.00" y2="1448.00" stroke="#777" stroke-width="1.2" />
<line x1="840.00" y1="1446.20" x2="840.00" y2="1448.00" stroke="#777" stroke-width="1.2" />
<line x1="858.00" y1="1446.20" x2="858.00" y2="1448.00" stroke="#777" stroke-width="1.2" />
<line x1="876.00" y1="1446.20" x2="876.00" y2="1448.00" stroke="#777" stroke-width="1.2" />
<line x1="894.00" y1="1446.20" x2="894.00" y2="1448.00" stroke="#777" stroke-width="1.2" />
<line x1="912.00" y1="1446.20" x2="912.00" y2="1448.00" stroke="#777" stroke-width="1.2" />
<line x1="930.00" y1="1446.20" x2="930.00" y2="1448.00" stroke="#777" stroke-width="1.2" />
<line x1="948.00" y1="1446.20" x2="948.00" y2="1448.00" stroke="#777" stroke-width="1.2" />
<line x1="966.00" y1="1446.20" x2="966.00" y2="1448.00" stroke="#777" stroke-width="1.2" />
<line x1="984.00" y1="1446.20" x2="984.00" y2="1448.00" stroke="#777" stroke-width="1.2" />
<line x1="1002.00" y1="1446.20" x2="1002.00" y2="1448.00" stroke="#777" stroke-width="1.2" />
<line x1="1020.00" y1="1446.20" x2="1020.00" y2="1448.00" stroke="#777" stroke-width="1.2" />
<line x1="1038.00" y1="1446.20" x2="1038.00" y2="1448.00" stroke="#777" stroke-width="1.2" />
<line x1="1056.00" y1="1446.20" x2="1056.00" y2="1448.00" stroke="#777" stroke-width="1.2" />
<line x1="1074.00" y1="1446.20" x2="1074.00" y2="1448.00" stroke="#777" stroke-width="1.2" />
<line x1="1092.00" y1="1446.20" x2="1092.00" y2="1448.00" stroke="#777" stroke-width="1.2" />
<line x1="1110.00" y1="1446.20" x2="1110.00" y2="1448.00" stroke="#777" stroke-width="1.2" />
<line x1="1128.00" y1="1446.20" x2="1128.00" y2="1448.00" stroke="#777" stroke-width="1.2" />
<line x1="1146.00" y1="1446.20" x2="1146.00" y2="1448.00" stroke="#777" stroke-width="1.2" />
<line x1="1164.00" y1="1446.20" x2="1164.00" y2="1448.00" stroke="#777" stroke-width="1.2" />
<line x1="1182.00" y1="1446.20" x2="1182.00" y2="1448.00" stroke="#777" stroke-width="1.2" />
<line x1="1200.00" y1="1446.20" x2="1200.00" y2="1448.00" stroke="#777" stroke-width="1.2" />
<line x1="1218.00" y1="1446.20" x2="1218.00" y2="1448.00" stroke="#777" stroke-width="1.2" />
<line x1="1236.00" y1="1446.20" x2="1236.00" y2="1448.00" stroke="#777" stroke-width="1.2" />
<line x1="1254.00" y1="1446.20" x2="1254.00" y2="1448.00" stroke="#777" stroke-width="1.2" />
<line x1="1272.00" y1="1446.20" x2="1272.00" y2="1448.00" stroke="#777" stroke-width="1.2" />
<line x1="1290.00" y1="1446.20" x2="1290.00" y2="1448.00" stroke="#777" stroke-width="1.2" />
<line x1="1308.00" y1="1446.20" x2="1308.00" y2="1448.00" stroke="#777" stroke-width="1.2" />
<line x1="1326.00" y1="1446.20" x2="1326.00" y2="1448.00" stroke="#777" stroke-width="1.2" />
<line x1="1344.00" y1="1446.20" x2="1344.00" y2="1448.00" stroke="#777" stroke-width="1.2" />
<line x1="1362.00" y1="1446.20" x2="1362.00" y2="1448.00" stroke="#777" stroke-width="1.2" />
<line x1="1380.00" y1="1446.20" x2="1380.00" y2="1448.00" stroke="#777" stroke-width="1.2" />
<line x1="1398.00" y1="1446.20" x2="1398.00" y2="1448.00" stroke="#777" stroke-width="1.2" />
<line x1="1416.00" y1="1446.20" x2="1416.00" y2="1448.00" stroke="#777" stroke-width="1.2" />
<line x1="1434.00" y1="1446.20" x2="1434.00" y2="1448.00" stroke="#777" stroke-width="1.2" />
<line x1="1452.00" y1="1446.20" x2="1452.00" y2="1448.00" stroke="#777" stroke-width="1.2" />
<line x1="1470.00" y1="1446.20" x2="1470.00" y2="1448.00" stroke="#777" stroke-width="1.2" />
<line x1="1488.00" y1="1446.20" x2="1488.00" y2="1448.00" stroke="#777" stroke-width="1.2" />
<line x1="1506.00" y1="1446.20" x2="1506.00" y2="1448.00" stroke="#777" stroke-width="1.2" />
<line x1="1524.00" y1="1446.20" x2="1524.00" y2="1448.00" stroke="#777" stroke-width="1.2" />
<line x1="1542.00" y1="1446.20" x2="1542.00" y2="1448.00" stroke="#777" stroke-width="1.2" />
<line x1="1560.00" y1="1446.20" x2="1560.00" y2="1448.00" stroke="#777" stroke-width="1.2" />
<line x1="1578.00" y1="1446.20" x2="1578.00" y2="1448.00" stroke="#777" stroke-width="1.2" />
<line x1="228.60" y1="1442.60" x2="228.60" y2="1448.00" stroke="#666" stroke-width="1.7" />
<line x1="318.70" y1="1442.60" x2="318.70" y2="1448.00" stroke="#666" stroke-width="1.7" />
<line x1="408.70" y1="1442.60" x2="408.70" y2="1448.00" stroke="#666" stroke-width="1.7" />
<line x1="498.80" y1="1442.60" x2="498.80" y2="1448.00" stroke="#666" stroke-width="1.7" />
<line x1="588.80" y1="1442.60" x2="588.80" y2="1448.00" stroke="#666" stroke-width="1.7" />
<line x1="678.80" y1="1442.60" x2="678.80" y2="1448.00" stroke="#666" stroke-width="1.7" />
<line x1="768.80" y1="1442.60" x2="768.80" y2="1448.00" stroke="#666" stroke-width="1.7" />
<line x1="840.80" y1="1442.60" x2="840.80" y2="1448.00" stroke="#666" stroke-width="1.7" />
<line x1="930.80" y1="1442.60" x2="930.80" y2="1448.00" stroke="#666" stroke-width="1.7" />
<line x1="1020.80" y1="1442.60" x2="1020.80" y2="1448.00" stroke="#666" stroke-width="1.7" />
<line x1="1110.80" y1="1442.60" x2="1110.80" y2="1448.00" stroke="#666" stroke-width="1.7" />
<line x1="1200.80" y1="1442.60" x2="1200.80" y2="1448.00" stroke="#666" stroke-width="1.7" />
<line x1="1290.80" y1="1442.60" x2="1290.80" y2="1448.00" stroke="#666" stroke-width="1.7" />
<line x1="1380.80" y1="1442.60" x2="1380.80" y2="1448.00" stroke="#666" stroke-width="1.7" />
<line x1="1470.80" y1="1442.60" x2="1470.80" y2="1448.00" stroke="#666" stroke-width="1.7" />
<line x1="1561.00" y1="1442.60" x2="1561.00" y2="1448.00" stroke="#666" stroke-width="1.7" />
<line x1="1578.60" y1="1449.00" x2="1578.60" y2="1455.00" stroke="#666" stroke-width="1.7" />
<rect x="141.00" y="1471.50" width="1459.40" height="1.70" fill="#6a6a6a" />
<text transform="translate(149.84 1467.60) scale(0.9976 1)" font-size="22.8" fill="#000" stroke="#000" stroke-width="0.4" >Jul</text>
<rect x="326.40" y="1449.00" width="1.70" height="23.00" fill="#6a6a6a" />
<text transform="translate(333.76 1467.80) scale(0.9678 1)" font-size="22.8" fill="#000" stroke="#000" stroke-width="0.4" >Aug</text>
<rect x="704.40" y="1449.00" width="1.70" height="23.00" fill="#6a6a6a" />
<text transform="translate(710.80 1467.80) scale(0.9678 1)" font-size="22.8" fill="#000" stroke="#000" stroke-width="0.4" >Sep</text>
<rect x="1082.40" y="1449.00" width="1.70" height="23.00" fill="#6a6a6a" />
<text transform="translate(1088.75 1467.80) scale(0.9678 1)" font-size="22.8" fill="#000" stroke="#000" stroke-width="0.4" >Oct</text>
<rect x="1478.40" y="1449.00" width="1.70" height="23.00" fill="#6a6a6a" />
<text transform="translate(1483.99 1467.80) scale(0.9678 1)" font-size="22.8" fill="#000" stroke="#000" stroke-width="0.4" >Nov</text>
<g clip-path="url(#cyr)">
<text transform="translate(149.06 1491.40) scale(0.9904 1)" font-size="22.8" fill="#000" stroke="#000" stroke-width="0.4" >20</text>
</g>
<text transform="translate(54.62 1479.40) scale(0.9536 1)" font-size="22.8" fill="#000" stroke="#000" stroke-width="0.4" >Daily</text>
<text transform="translate(1635.40 1479.60) scale(0.9598 1)" font-size="22.8" fill="#000" stroke="#000" stroke-width="0.4" >Daily</text>
<path d="M20.75 1458.00 h8.50 v1.3 l-4.25 3.70 z" fill="#000"/>
<path d="M1710.75 1458.00 h8.50 v1.3 l-4.25 3.70 z" fill="#000"/>
<rect x="12.00" y="1493.00" width="1715.00" height="23.50" fill="#f6f6f6" />
<rect x="12.00" y="1493.00" width="1715.00" height="1.00" fill="#e9e9e9" />
<rect x="1642.00" y="1500.00" width="78.30" height="11.80" fill="#c1c1c1" rx="5.9"/>
<rect x="12.00" y="1516.00" width="1715.00" height="1.40" fill="#d3d3d3" />
<rect x="12.00" y="1517.40" width="1715.00" height="73.00" fill="url(#tbg)" />
<g fill="none" stroke-linecap="round"><path d="M36.4 1554.6 H59.8 M48 1542.9 V1566.3" stroke="#d6d6d6" stroke-width="7.6"/><path d="M36.4 1554.1 H59.8 M48 1542.4 V1565.8" stroke="#fbfbfb" stroke-width="6"/><path d="M35.9 1554.1 H60.2 M48 1542 V1566.2" stroke="#4f4f4f" stroke-width="2.1" stroke-linecap="butt"/></g>
<g fill="none" stroke="#7d7d7d"><circle cx="1325.7" cy="1552.7" r="8.7" stroke-width="4.4"/><path d="M1331.8 1558.8 L1338.2 1565.2" stroke-width="5.6" stroke-linecap="butt"/></g>
<line x1="1373.00" y1="1538.30" x2="1373.00" y2="1573.50" stroke="#cfccd1" stroke-width="1.8" />
<path d="M1402.2 1571 L1411.4 1549 L1420.7 1554.8 L1433 1541 L1423 1562.9 L1413.7 1557.7 Z" fill="#6b6b6b"/>
<rect x="1464.00" y="1544.00" width="9.80" height="9.70" fill="#7f7f7f" rx="1.6"/>
<rect x="1464.00" y="1558.30" width="9.80" height="9.70" fill="#7f7f7f" rx="1.6"/>
<rect x="1478.10" y="1544.00" width="9.80" height="9.70" fill="#7f7f7f" rx="1.6"/>
<rect x="1478.10" y="1558.30" width="9.80" height="9.70" fill="#7f7f7f" rx="1.6"/>
<rect x="1527.90" y="1544.50" width="26.40" height="22.80" fill="#f3f3f3" stroke="#2e2e2e" stroke-width="1.6"/>
<rect x="1528.70" y="1556.00" width="24.80" height="10.60" fill="#858585" />
<line x1="1587.00" y1="1538.30" x2="1587.00" y2="1573.50" stroke="#cfccd1" stroke-width="1.8" />
<path d="M1615.9 1565.6 V1546.6 C1615.9 1542 1626 1540.6 1630.1 1546.6 C1634.2 1540.6 1644.3 1542 1644.3 1546.6 V1565.6 C1640 1561.6 1633.4 1561.8 1630.1 1566.2 C1626.8 1561.8 1620.2 1561.6 1615.9 1565.6 Z M1630.1 1546.6 V1566.2" fill="none" stroke="#767676" stroke-width="1.8" stroke-linejoin="round"/>
<line x1="1672.00" y1="1545.90" x2="1700.00" y2="1545.90" stroke="#6e6e6e" stroke-width="1.7" />
<line x1="1672.00" y1="1552.00" x2="1700.00" y2="1552.00" stroke="#6e6e6e" stroke-width="1.7" />
<line x1="1672.00" y1="1558.00" x2="1700.00" y2="1558.00" stroke="#6e6e6e" stroke-width="1.7" />
<line x1="1672.00" y1="1564.00" x2="1700.00" y2="1564.00" stroke="#6e6e6e" stroke-width="1.7" />
</svg></body></html>
